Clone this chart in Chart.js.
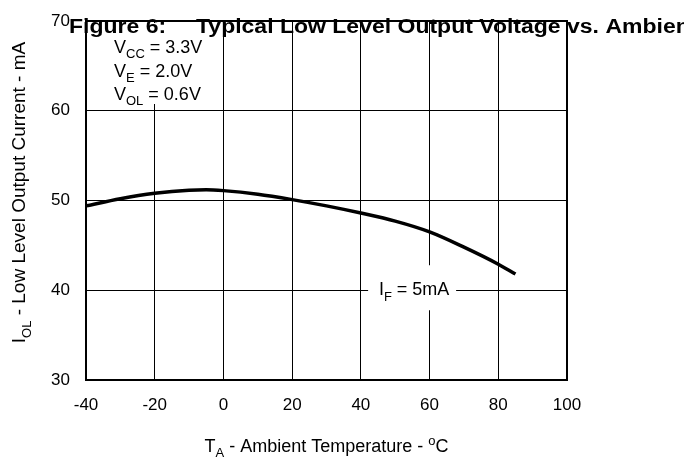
<!DOCTYPE html>
<html>
<head>
<meta charset="utf-8">
<script src="https://cdn.jsdelivr.net/npm/chart.js@4.4.0/dist/chart.umd.min.js"></script>
<style>
    html, body { margin: 0; padding: 0; background: #fff; }
    #wrap { width: 684px; height: 459px; position: relative; }
</style>
</head>
<body>
<div id="wrap"><canvas id="chart"></canvas></div>
<script>
// data (IF = 5mA curve)
const tempC = [-40, -30, -20, -10, -5, 0, 10, 20, 30, 40, 50, 60, 70, 80, 85];
const iolMA = [49.4, 50.2, 50.8, 51.15, 51.2, 51.1, 50.7, 50.1, 49.4, 48.6, 47.7, 46.5, 44.8, 42.9, 41.8];
const xTicks = [-40, -20, 0, 20, 40, 60, 80, 100];
const yTicks = [30, 40, 50, 60, 70];

const FONT = '"Liberation Sans", Arial, sans-serif';

// draws text with subscript/superscript parts: [[text, 'n'|'sub'|'sup'], ...]
function drawRich(ctx, parts, x, y, size, align) {
    let total = 0;
    const widths = parts.map(p => {
        ctx.font = (p[1] === 'n' ? size : Math.round(size * 0.7)) + 'px ' + FONT;
        const w = ctx.measureText(p[0]).width;
        total += w;
        return w;
    });
    let cx = align === 'center' ? x - total / 2 : x;
    parts.forEach((p, i) => {
        const small = p[1] !== 'n';
        ctx.font = (small ? Math.round(size * 0.7) : size) + 'px ' + FONT;
        let dy = 0;
        if (p[1] === 'sub') dy = size * 0.3;
        if (p[1] === 'sup') dy = -size * 0.4;
        ctx.fillText(p[0], cx, y + dy);
        cx += widths[i];
    });
    return total;
}

const notes = {
    id: 'notes',
    beforeDatasetsDraw(chart) {
        const { ctx, scales: { x, y } } = chart;
        ctx.save();
        ctx.fillStyle = '#fff';
        // blank area behind the conditions text
        const left = x.getPixelForValue(-40) + 2;
        const top = y.getPixelForValue(70) + 2;
        ctx.fillRect(left, top, 122, 81);
        // blank area behind the curve label
        ctx.fillRect(x.getPixelForValue(55.5) - 46, y.getPixelForValue(40) - 25, 88, 45);
        ctx.restore();
    },
    afterDraw(chart) {
        const { ctx, scales: { x, y } } = chart;
        ctx.save();
        ctx.fillStyle = '#000';
        ctx.textBaseline = 'alphabetic';
        const lx = x.getPixelForValue(-40) + 28;
        const top = y.getPixelForValue(70);
        drawRich(ctx, [['V', 'n'], ['CC', 'sub'], [' = 3.3V', 'n']], lx, top + 32, 18, 'left');
        drawRich(ctx, [['V', 'n'], ['E', 'sub'], [' = 2.0V', 'n']], lx, top + 56, 18, 'left');
        drawRich(ctx, [['V', 'n'], ['OL', 'sub'], [' = 0.6V', 'n']], lx, top + 79, 18, 'left');

        drawRich(ctx, [['I', 'n'], ['F', 'sub'], [' = 5mA', 'n']], x.getPixelForValue(55.5), y.getPixelForValue(40) + 5, 18, 'center');

        // x axis title
        drawRich(ctx, [['T', 'n'], ['A', 'sub'], [' - Ambient Temperature - ', 'n'], ['o', 'sup'], ['C', 'n']],
            (x.left + x.right) / 2, 452, 18, 'center');

        // y axis title
        ctx.save();
        ctx.translate(25, (y.top + y.bottom) / 2 - 8);
        ctx.rotate(-Math.PI / 2);
        drawRich(ctx, [['I', 'n'], ['OL', 'sub'], [' - Low Level Output Current - mA', 'n']], 0, 0, 19, 'center');
        ctx.restore();

        // figure title, runs past the right edge like the original
        ctx.save();
        ctx.translate(0, 33);
        ctx.scale(1, 0.88);
        ctx.font = 'bold 23px ' + FONT;
        ctx.fillText('Figure 6:', 69, 0);
        ctx.fillText('Typical Low Level Output Voltage vs. Ambient Temperature', 196, 0);
        ctx.restore();
        ctx.restore();
    }
};

new Chart(document.getElementById('chart'), {
    type: 'line',
    data: {
        datasets: [{
            data: tempC.map((t, i) => ({ x: t, y: iolMA[i] })),
            borderColor: '#000',
            borderWidth: 3.5,
            pointRadius: 0,
            tension: 0.4,
            cubicInterpolationMode: 'monotone',
            fill: false
        }]
    },
    options: {
        responsive: true,
        maintainAspectRatio: false,
        animation: false,
        events: [],
        layout: { padding: { top: 21, right: 117, left: 0, bottom: 0 } },
        plugins: { legend: { display: false }, tooltip: { enabled: false } },
        scales: {
            x: {
                type: 'linear',
                min: -40, max: 100,
                afterBuildTicks: s => { s.ticks = xTicks.map(v => ({ value: v })); },
                afterFit: s => { s.height = 79; s.paddingLeft = 0; s.paddingRight = 0; },
                grid: { color: '#000', lineWidth: 1, drawTicks: false },
                border: { color: '#000', width: 2 },
                ticks: { color: '#000', padding: 15, font: { family: FONT, size: 17 } }
            },
            y: {
                min: 30, max: 70,
                afterBuildTicks: s => { s.ticks = yTicks.map(v => ({ value: v })); },
                afterFit: s => { s.width = 86; s.paddingTop = 0; s.paddingBottom = 0; },
                grid: { color: '#000', lineWidth: 1, drawTicks: false },
                border: { color: '#000', width: 2 },
                ticks: { color: '#000', padding: 16, font: { family: FONT, size: 17 } }
            }
        }
    },
    plugins: [notes, {
        id: 'frame',
        afterDatasetsDraw(chart) {
            // top and right edges of the frame
            const { ctx, chartArea: a } = chart;
            ctx.save();
            ctx.strokeStyle = '#000';
            ctx.lineWidth = 2;
            ctx.beginPath();
            ctx.moveTo(a.left, a.top);
            ctx.lineTo(a.right, a.top);
            ctx.lineTo(a.right, a.bottom);
            ctx.stroke();
            ctx.restore();
        }
    }]
});
</script>
</body>
</html>
